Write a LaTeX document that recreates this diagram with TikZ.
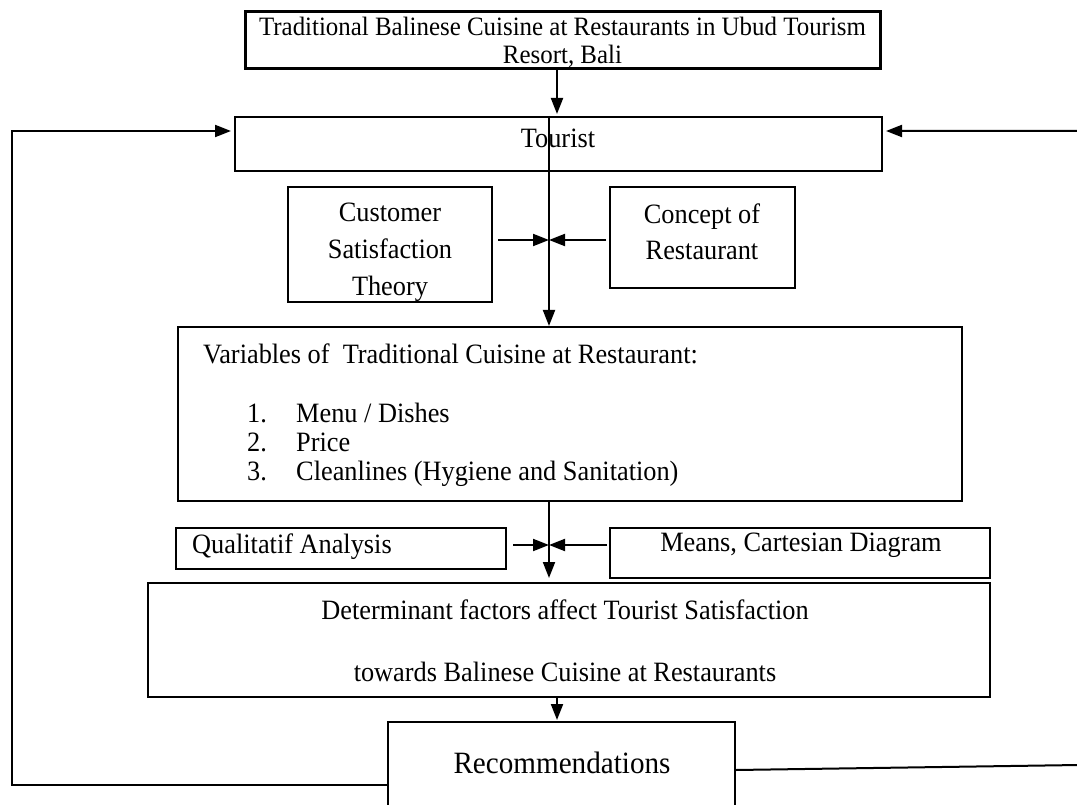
\documentclass[tikz,border=0pt]{standalone}
\usepackage{fontspec}
\setmainfont{Liberation Serif}[FakeStretch=0.94]
\usetikzlibrary{arrows.meta}
\tikzset{
  x=1pt,y=-1pt,
  box/.style={draw,line width=2pt,rectangle,inner sep=0pt,font=\fontsize{28}{37}\selectfont},
  txt/.style={inner sep=0pt,font=\fontsize{28}{30}\selectfont},
  conn/.style={line width=2pt},
  arr/.style={line width=2pt,-{Triangle[length=16pt,width=12pt]}},
}
\begin{document}
\begin{tikzpicture}
\useasboundingbox (0,0) rectangle (1077,805);
\clip (0,0) rectangle (1077,805);
% boxes
\node[box,line width=3pt,minimum width=635pt,minimum height=57pt] (top) at (562.5,40.5) {};
\node[txt,align=center,font=\fontsize{26.5}{28}\selectfont] (toptxt) at (562.5,42)
  {Traditional Balinese Cuisine at Restaurants in Ubud Tourism\\Resort, Bali};
\node[box,minimum width=647pt,minimum height=54pt] (tourist) at (558.5,144) {};
\node[txt] (touristtxt) at (558,138) {Tourist};
\node[box,minimum width=204pt,minimum height=115pt] (cst) at (390,244.5) {};
\node[txt,align=center,font=\fontsize{28}{37}\selectfont] (csttxt) at (390,252)
  {Customer\\Satisfaction\\Theory};
\node[box,minimum width=185pt,minimum height=101pt] (concept) at (702.5,237.5) {};
\node[txt,align=center,font=\fontsize{28}{36}\selectfont] (concepttxt) at (702,232)
  {Concept of\\Restaurant};
\node[box,minimum width=784pt,minimum height=174pt] (var) at (570,414) {};
\node[txt,anchor=base west] (vartitle) at (203,363) {Variables of\ \ Traditional Cuisine at Restaurant:};
\node[txt,anchor=base west] (v1n) at (247,422) {1.};
\node[txt,anchor=base west] (v1) at (296,422) {Menu / Dishes};
\node[txt,anchor=base west] (v2n) at (247,451) {2.};
\node[txt,anchor=base west] (v2) at (296,451) {Price};
\node[txt,anchor=base west] (v3n) at (247,480) {3.};
\node[txt,anchor=base west] (v3) at (296,480) {Cleanlines (Hygiene and Sanitation)};
\node[box,minimum width=330pt,minimum height=41pt] (qual) at (341,548.5) {};
\node[txt,anchor=west] (qualtxt) at (192,547) {Qualitatif Analysis};
\node[box,minimum width=380pt,minimum height=50pt] (means) at (800,553) {};
\node[txt] (meanstxt) at (801,545) {Means, Cartesian Diagram};
\node[box,minimum width=842pt,minimum height=114pt] (det) at (569,640) {};
\node[txt] (det1) at (565,610) {Determinant factors affect Tourist Satisfaction};
\node[txt] (det2) at (565,672) {towards Balinese Cuisine at Restaurants};
\node[box,minimum width=347pt,minimum height=92pt] (rec) at (561.5,768) {};
\node[txt,font=\fontsize{31}{34}\selectfont] (rectxt) at (562,763) {Recommendations};
% hubs
\coordinate (hub1) at (549,240);
\coordinate (hub2) at (549,545);
% connectors
\draw[arr] (top.south -| 557,0) -- (557,114);
\draw[conn] (tourist.north -| hub1) -- (hub1);
\draw[arr] (hub1) -- (549,326);
\draw[arr] ([xshift=5pt]cst.east |- hub1) -- (hub1);
\draw[arr] ([xshift=-3pt]concept.west |- hub1) -- (hub1);
\draw[conn] (var.south -| hub2) -- (hub2);
\draw[arr] (hub2) -- (549,578);
\draw[arr] ([xshift=6pt]qual.east |- hub2) -- (hub2);
\draw[arr] ([xshift=-2pt]means.west |- hub2) -- (hub2);
\draw[arr] (det.south -| 557,0) -- (557,720);
\coordinate (lbot) at (12,785);
\coordinate (ltop) at (12,131);
\draw[arr] (rec.west |- lbot) -- (lbot) -- (ltop) -- ([xshift=-3pt]tourist.west |- ltop);
\coordinate (rbot) at (1079,765);
\coordinate (rtop) at (1079,131);
\draw[arr] (rec.east |- 0,770) -- (rbot) -- (rtop) -- ([xshift=3pt]tourist.east |- rtop);
\end{tikzpicture}
\end{document}
